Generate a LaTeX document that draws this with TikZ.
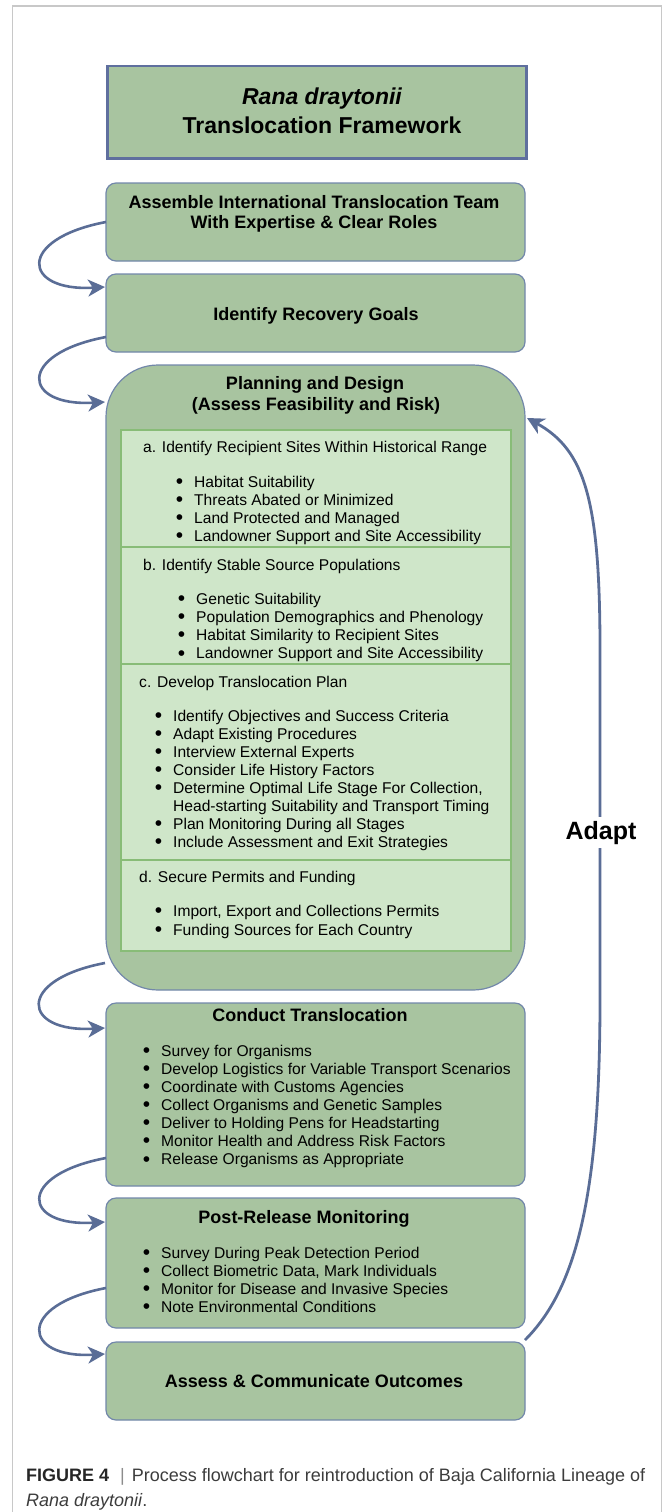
\documentclass[tikz,border=0pt]{standalone}
\usepackage{fontspec}
\setmainfont{Liberation Sans}
\usetikzlibrary{arrows.meta,calc}
\definecolor{boxfill}{HTML}{A8C4A0}
\definecolor{boxline}{HTML}{7287AA}
\definecolor{titleline}{HTML}{5F6F9E}
\definecolor{subfill}{HTML}{CFE6C9}
\definecolor{subline}{HTML}{88BC77}
\definecolor{arrowc}{HTML}{5A6D96}
\definecolor{framec}{HTML}{C8C8C8}
\definecolor{capc}{HTML}{3C3C3C}
\newcommand\fsz[2]{\fontsize{#1}{#2}\selectfont}
\newcommand\bl{\llap{\raisebox{-1.2pt}{\fontsize{21}{18}\selectfont •}\hspace{11pt}}}
\begin{document}
\begin{tikzpicture}[x=1pt,y=-1pt,
  stagebox/.style={draw=boxline,line width=1.2pt,fill=boxfill,rounded corners=10pt,inner sep=0pt,outer sep=0pt,anchor=north west,minimum width=419pt},
  subbox/.style={draw=subline,line width=1.3pt,fill=subfill,inner sep=0pt,outer sep=0pt,anchor=north west,minimum width=390pt},
  hd/.style={inner sep=0pt,anchor=base,font=\fsz{18}{20}\bfseries},
  itm/.style={inner sep=0pt,anchor=base west,font=\fsz{15.6}{18}},
  flow/.style={draw=arrowc,line width=2.6pt,-{Stealth[length=17pt,width=17pt,inset=5pt]}},
]
\useasboundingbox (0,0) rectangle (663,1512);
% outer frame
\draw[framec,line width=1.5pt] (12.5,1512) -- (12.5,6) -- (661.5,6) -- (661.5,1512);

% title box
\node[draw=titleline,line width=2.5pt,fill=boxfill,inner sep=0pt,anchor=north west,minimum width=419pt,minimum height=92pt] (tbox) at (106,65) {};
\node[inner sep=0pt,anchor=base,font=\fsz{23}{28}\bfseries\itshape] (t1) at (322,104) {Rana draytonii};
\node[inner sep=0pt,anchor=base,font=\fsz{23}{28}\bfseries] (t2) at (322,133.5) {Translocation Framework};

% stage boxes
\node[stagebox,minimum height=78pt] (st1) at (106,183) {};
\node[stagebox,minimum height=78pt] (st2) at (106,274) {};
\node[stagebox,rounded corners=52pt,minimum height=625pt] (plan) at (106,365) {};
\node[stagebox,minimum height=183pt] (st4) at (106,1003) {};
\node[stagebox,minimum height=130pt] (st5) at (106,1198) {};
\node[stagebox,minimum height=78pt] (st6) at (106,1342) {};

% sub sections
\node[subbox,minimum height=117pt] (sa) at (121,430) {};
\node[subbox,minimum height=117pt] (sb) at (121,547) {};
\node[subbox,minimum height=196pt] (sc) at (121,664) {};
\node[subbox,minimum height=91pt] (sd) at (121,860) {};

% box texts
\node[hd] (h1a) at (314,208) {Assemble International Translocation Team};
\node[hd] (h1b) at (314,228) {With Expertise \& Clear Roles};
\node[hd] (h2) at (316,320) {Identify Recovery Goals};
\node[hd] (hp1) at (315,389.7) {Planning and Design};
\node[hd] (hp2) at (316,410.4) {(Assess Feasibility and Risk)};
\node[hd] (h4) at (310,1021.5) {Conduct Translocation};
\node[hd] (h5) at (304,1223) {Post-Release Monitoring};
\node[hd] (h6) at (314,1387) {Assess \& Communicate Outcomes};

% section a
\node[itm] (ha) at (143,452.5) {a. Identify Recipient Sites Within Historical Range};
\foreach \t [count=\i from 0] in {{Habitat Suitability},{Threats Abated or Minimized},{Land Protected and Managed},{Landowner Support and Site Accessibility}}
  \node[itm] (ia\i) at (194,487+18*\i) {\bl\t};
% section b
\node[itm] (hb) at (143,570.5) {b. Identify Stable Source Populations};
\foreach \t [count=\i from 0] in {{Genetic Suitability},{Population Demographics and Phenology},{Habitat Similarity to Recipient Sites},{Landowner Support and Site Accessibility}}
  \node[itm] (ib\i) at (196,604+18.3*\i) {\bl\t};
% section c
\node[itm] (hc) at (139,687.5) {c. Develop Translocation Plan};
\foreach \t [count=\i from 0] in {{\bl Identify Objectives and Success Criteria},{\bl Adapt Existing Procedures},{\bl Interview External Experts},{\bl Consider Life History Factors},{\bl Determine Optimal Life Stage For Collection,},{Head-starting Suitability and Transport Timing},{\bl Plan Monitoring During all Stages},{\bl Include Assessment and Exit Strategies}}
  \node[itm] (ic\i) at (173,721.5+18*\i) {\t};
% section d
\node[itm] (hdd) at (139,882.5) {d. Secure Permits and Funding};
\foreach \t [count=\i from 0] in {{Import, Export and Collections Permits},{Funding Sources for Each Country}}
  \node[itm] (id\i) at (173,916+19*\i) {\bl\t};
% conduct
\foreach \t [count=\i from 0] in {{Survey for Organisms},{Develop Logistics for Variable Transport Scenarios},{Coordinate with Customs Agencies},{Collect Organisms and Genetic Samples},{Deliver to Holding Pens for Headstarting},{Monitor Health and Address Risk Factors},{Release Organisms as Appropriate}}
  \node[itm] (ie\i) at (161,1056.2+18.1*\i) {\bl\t};
% post-release
\foreach \t [count=\i from 0] in {{Survey During Peak Detection Period},{Collect Biometric Data, Mark Individuals},{Monitor for Disease and Invasive Species},{Note Environmental Conditions}}
  \node[itm] (if\i) at (161,1258.2+18*\i) {\bl\t};

% left flow arrows
\draw[flow] (st1.west) .. controls +(-90,17) and +(-83,5) .. ($(st2.north west)+(-1,13)$);
\draw[flow] ($(st2.south west)+(0,-15)$) .. controls +(-90,17) and +(-83,5) .. ($(plan.north west)+(-1,37)$);
\draw[flow] ($(plan.south west)+(-1,-27)$) .. controls +(-90,17) and +(-83,5) .. ($(st4.north west)+(-1,25)$);
\draw[flow] ($(st4.south west)+(0,-28)$) .. controls +(-90,17) and +(-83,5) .. ($(st5.north west)+(-1,24)$);
\draw[flow] ($(st5.south west)+(0,-40)$) .. controls +(-90,17) and +(-83,5) .. ($(st6.north west)+(-1,12)$);

% adapt arrow
\coordinate (ad1) at (600,1000);
\coordinate (ad2) at (600,650);
\draw[flow,line width=2.8pt] ($(st6.north east)+(0,-2)$) .. controls +(50,-50) and +(0,200) .. (ad1) -- (ad2) .. controls +(0,-150) and +(58,32) .. ($(plan.north east)+(2,53)$);
\node[fill=white,inner xsep=2pt,inner ysep=4pt,anchor=base,font=\fsz{25}{28}\bfseries] (adapt) at (601,839) {Adapt};

% caption
\node[anchor=base west,inner sep=0pt,font=\fsz{18}{22},text=capc] (cap1) at (26,1481.7) {{\color{black!85}\bfseries FIGURE 4}\hspace{11pt}{\color{black!45}|}\hspace{7pt}Process flowchart for reintroduction of Baja California Lineage of};
\node[anchor=base west,inner sep=0pt,font=\fsz{18}{22},text=capc] (cap2) at (26,1506) {\itshape Rana draytonii\upshape.};
\end{tikzpicture}
\end{document}
